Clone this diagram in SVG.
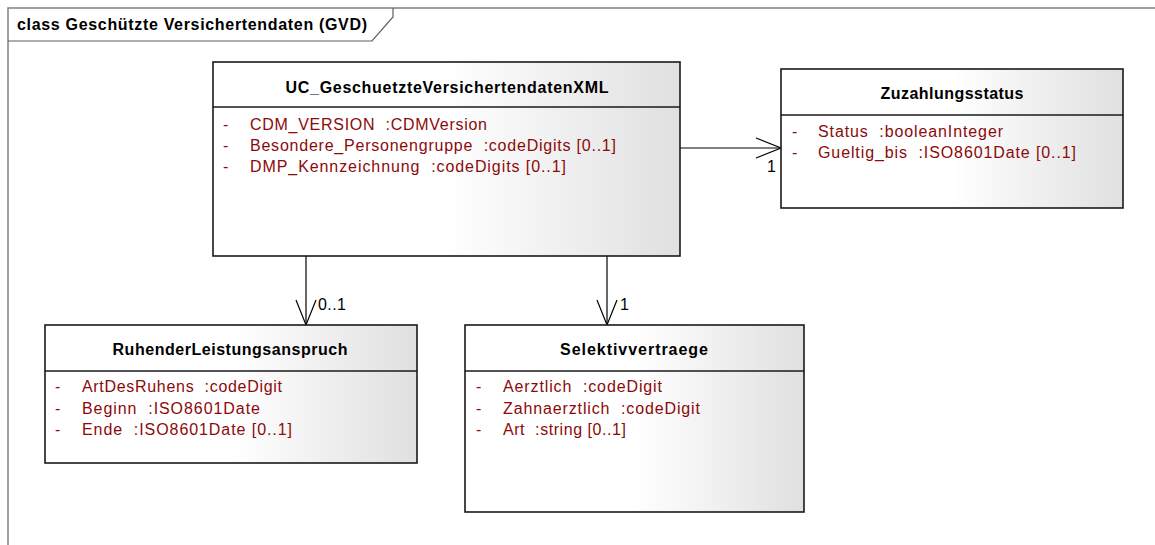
<svg xmlns="http://www.w3.org/2000/svg" width="1155" height="545" viewBox="0 0 1155 545">
<style>
.frame{fill:none;stroke:#808080;stroke-width:1.5}
.tab{fill:none;stroke:#606060;stroke-width:1.2}
.box{fill:url(#g);stroke:#1a1a1a;stroke-width:1.6}
.sep{stroke:#1a1a1a;stroke-width:1.6}
.title{font-family:"Liberation Sans",Arial,sans-serif;font-weight:bold;font-size:16px;fill:#000;text-anchor:middle}
.ftitle{font-family:"Liberation Sans",Arial,sans-serif;font-weight:bold;font-size:16px;fill:#000}
.attr{font-family:"Liberation Sans",Arial,sans-serif;font-size:16px;fill:#8b0a0a}
.lbl{font-family:"Liberation Sans",Arial,sans-serif;font-size:16px;fill:#000}
.conn{fill:none;stroke:#000;stroke-width:1.2}
</style>
<defs>
<linearGradient id="g" x1="0" y1="0" x2="1" y2="0">
<stop offset="0" stop-color="#ffffff"/>
<stop offset="0.5" stop-color="#ffffff"/>
<stop offset="1" stop-color="#e0e0e0"/>
</linearGradient>
</defs>
<rect width="1155" height="545" fill="#fff"/>
<g id="frame">
<rect class="frame" x="8" y="8" width="1160" height="560"/>
<path class="tab" d="M8,41 H372 L393,17 V8"/>
<text class="ftitle" x="17" y="30" textLength="350">class Geschützte Versichertendaten (GVD)</text>
</g>
<g id="connectors">
<line class="conn" x1="680" y1="148" x2="781" y2="148"/>
<polyline class="conn" points="756,138 781,148 756,158"/>
<text class="lbl" x="767" y="172">1</text>
<line class="conn" x1="306" y1="256" x2="306" y2="325"/>
<polyline class="conn" points="296,300 306,325 316,300"/>
<text class="lbl" x="318" y="310" textLength="28">0..1</text>
<line class="conn" x1="607" y1="256" x2="607" y2="325"/>
<polyline class="conn" points="597,300 607,325 617,300"/>
<text class="lbl" x="620" y="310">1</text>
</g>
<g id="UC_GeschuetzteVersichertendatenXML">
<rect class="box" x="213" y="62" width="467" height="194"/>
<line class="sep" x1="213" y1="107" x2="680" y2="107"/>
<text class="title" x="447" y="93" textLength="323">UC_GeschuetzteVersichertendatenXML</text>
<text class="attr" x="223" y="130">-</text>
<text class="attr" x="250" y="130" textLength="237" xml:space="preserve">CDM_VERSION  :CDMVersion</text>
<text class="attr" x="223" y="151">-</text>
<text class="attr" x="250" y="151" textLength="366" xml:space="preserve">Besondere_Personengruppe  :codeDigits [0..1]</text>
<text class="attr" x="223" y="172">-</text>
<text class="attr" x="250" y="172" textLength="316" xml:space="preserve">DMP_Kennzeichnung  :codeDigits [0..1]</text>
</g>
<g id="Zuzahlungsstatus">
<rect class="box" x="781" y="69" width="342" height="139"/>
<line class="sep" x1="781" y1="115" x2="1123" y2="115"/>
<text class="title" x="952" y="99" textLength="143">Zuzahlungsstatus</text>
<text class="attr" x="792" y="137">-</text>
<text class="attr" x="818" y="137" textLength="185" xml:space="preserve">Status  :booleanInteger</text>
<text class="attr" x="792" y="158">-</text>
<text class="attr" x="818" y="158" textLength="258" xml:space="preserve">Gueltig_bis  :ISO8601Date [0..1]</text>
</g>
<g id="RuhenderLeistungsanspruch">
<rect class="box" x="45" y="325" width="372" height="138"/>
<line class="sep" x1="45" y1="371" x2="417" y2="371"/>
<text class="title" x="230" y="355" textLength="235">RuhenderLeistungsanspruch</text>
<text class="attr" x="55" y="392">-</text>
<text class="attr" x="82" y="392" textLength="200" xml:space="preserve">ArtDesRuhens  :codeDigit</text>
<text class="attr" x="55" y="414">-</text>
<text class="attr" x="82" y="414" textLength="178" xml:space="preserve">Beginn  :ISO8601Date</text>
<text class="attr" x="55" y="435">-</text>
<text class="attr" x="82" y="435" textLength="210" xml:space="preserve">Ende  :ISO8601Date [0..1]</text>
</g>
<g id="Selektivvertraege">
<rect class="box" x="465" y="325" width="339" height="187"/>
<line class="sep" x1="465" y1="371" x2="804" y2="371"/>
<text class="title" x="634" y="355" textLength="148">Selektivvertraege</text>
<text class="attr" x="476" y="392">-</text>
<text class="attr" x="503" y="392" textLength="159" xml:space="preserve">Aerztlich  :codeDigit</text>
<text class="attr" x="476" y="414">-</text>
<text class="attr" x="503" y="414" textLength="197" xml:space="preserve">Zahnaerztlich  :codeDigit</text>
<text class="attr" x="476" y="435">-</text>
<text class="attr" x="503" y="435" textLength="123" xml:space="preserve">Art  :string [0..1]</text>
</g>
</svg>
